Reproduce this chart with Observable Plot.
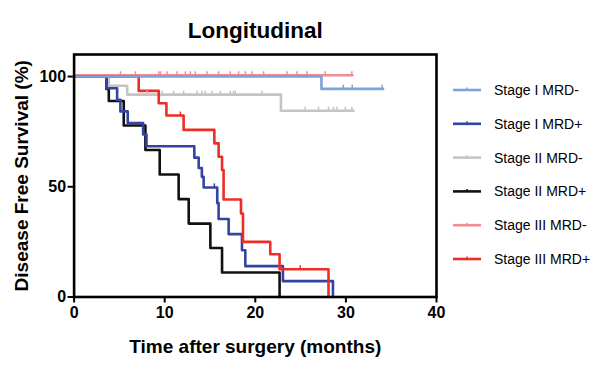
<!DOCTYPE html>
<html>
<head>
<meta charset="utf-8">
<script src="https://cdn.jsdelivr.net/npm/d3@7"></script>
<script src="https://cdn.jsdelivr.net/npm/@observablehq/plot@0.6"></script>
<style>
  html, body { margin: 0; padding: 0; background: #fff; }
  #chart { width: 607px; height: 376px; }
</style>
</head>
<body>
<div id="chart"></div>
<script>
// ---- Data ----
const seriesNames = ["Stage I MRD-", "Stage I MRD+", "Stage II MRD-", "Stage II MRD+", "Stage III MRD-", "Stage III MRD+"];
const seriesColors = ["#7ba3dc", "#3344a4", "#c4c4c4", "#111111", "#f48a92", "#ee2e26"];
// order in which the curves are layered (last on top)
const drawOrder = ["Stage III MRD-", "Stage II MRD-", "Stage II MRD+", "Stage I MRD+", "Stage III MRD+", "Stage I MRD-"];

// step times (months) and survival (%) for each series
const s1NegT = [0, 27.3, 34.1];
const s1NegS = [100, 94.4, 94.4];
const s1NegCensor = [29.7, 30.7, 34.0];

const s1PosT = [0, 3.57, 4.75, 5.11, 5.92, 7.62, 7.99, 13.27, 13.75, 14.1, 14.3, 15.8, 15.95, 17.06, 18.53, 18.9, 23.05, 28.57];
const s1PosS = [100, 94.7, 89.5, 84.2, 78.9, 73.7, 68.4, 63.2, 58.5, 54.5, 49.7, 42.6, 35.4, 28.5, 21.2, 14.0, 7.2, 0];
const s1PosCensor = [15.48];

const s2NegT = [0, 3.83, 5.86, 22.83, 30.84];
const s2NegS = [100, 95.8, 91.8, 84.5, 84.5];
const s2NegCensor = [8.06, 9.71, 10.99, 12.09, 13.57, 14.12, 14.49, 15.23, 16.14, 17.24, 17.6, 17.79, 20.74,
                     25.51, 26.98, 28.08, 28.63, 29.0, 29.92, 30.66];

const s2PosT = [0, 3.57, 3.83, 5.48, 7.87, 9.45, 11.54, 12.65, 15.04, 16.33, 22.68];
const s2PosS = [100, 94.4, 88.9, 77.8, 66.7, 55.6, 44.4, 33.3, 22.2, 11.1, 0];
const s2PosCensor = [];

const s3NegT = [0, 30.7];
const s3NegS = [100, 100];
const s3NegCensor = [5.12, 6.77, 9.34, 9.53, 10.26, 11.37, 12.28, 12.83, 13.38, 14.67, 15.95, 17.24, 18.16, 18.9,
                     19.64, 20.92, 23.5, 24.6, 25.7, 27.72, 30.66];

const s3PosT = [0, 7.13, 9.34, 10.19, 12.09, 15.48, 15.95, 16.33, 16.5, 18.42, 18.64, 21.65, 22.68, 28.08];
const s3PosS = [100, 93.5, 87.9, 82.3, 75.8, 69.7, 63.6, 57.6, 44.2, 37.9, 25.0, 19.4, 12.6, 0];
const s3PosCensor = [11.73, 24.96];

const xTicks = [0, 10, 20, 30, 40];
const yTicks = [0, 50, 100];

const titleText = "Longitudinal";
const xLabel = "Time after surgery (months)";
const yLabel = "Disease Free Survival (%)";

// ---- Build tables ----
const allT = [s1NegT, s1PosT, s2NegT, s2PosT, s3NegT, s3PosT];
const allS = [s1NegS, s1PosS, s2NegS, s2PosS, s3NegS, s3PosS];
const allC = [s1NegCensor, s1PosCensor, s2NegCensor, s2PosCensor, s3NegCensor, s3PosCensor];

function survAt(times, surv, t) {
  let v = surv[0];
  for (let i = 0; i < times.length; i++) if (times[i] <= t) v = surv[i];
  return v;
}

const steps = [];
const censors = [];
drawOrder.forEach(name => {
  const k = seriesNames.indexOf(name);
  allT[k].forEach((t, i) => steps.push({series: name, t, s: allS[k][i]}));
  allC[k].forEach(t => censors.push({series: name, t, s: survAt(allT[k], allS[k], t)}));
});
const pinkName = "Stage III MRD-";
const stepsPink = steps.filter(d => d.series === pinkName);
const stepsOther = steps.filter(d => d.series !== pinkName);
const censPink = censors.filter(d => d.series === pinkName);
const censOther = censors.filter(d => d.series !== pinkName);

const font = "'Liberation Sans', Arial, Helvetica, sans-serif";

const chart = Plot.plot({
  width: 607,
  height: 376,
  marginLeft: 73.6,
  marginRight: 171,
  marginTop: 54,
  marginBottom: 79.5,
  style: {fontFamily: font, background: "#fff", color: "#000"},
  x: {domain: [0, 40]},
  y: {domain: [0, 110]},
  color: {domain: seriesNames, range: seriesColors},
  marks: [
    Plot.axisX({ticks: xTicks, tickSize: 6, tickPadding: 4, strokeWidth: 2, fontSize: 16, fontWeight: "bold", label: null}),
    Plot.axisY({ticks: yTicks, tickSize: 6, tickPadding: 2, strokeWidth: 2, fontSize: 16, fontWeight: "bold", label: null}),
    Plot.line(stepsPink, {x: "t", y: "s", stroke: "series", curve: "step-after", strokeWidth: 2.6, dy: -1.3}),
    Plot.ruleX(censPink, {x: "t", y1: "s", y2: d => d.s + 1.6, stroke: "series", strokeWidth: 1.5, dy: -1.3}),
    Plot.line(stepsOther, {x: "t", y: "s", z: "series", stroke: "series", curve: "step-after", strokeWidth: 2.6}),
    Plot.ruleX(censOther, {x: "t", y1: "s", y2: d => d.s + 1.6, stroke: "series", strokeWidth: 1.5}),
    Plot.frame({stroke: "#000", strokeWidth: 2.6}),
    Plot.text([titleText], {frameAnchor: "top", dy: -24, lineAnchor: "middle", fontSize: 22.5, fontWeight: "bold"}),
    Plot.text([xLabel], {frameAnchor: "bottom", dy: 50, lineAnchor: "middle", fontSize: 19, fontWeight: "bold"}),
    Plot.text([yLabel], {frameAnchor: "left", dx: -52, rotate: -90, textAnchor: "middle", lineAnchor: "middle", fontSize: 19, fontWeight: "bold"})
  ]
});

document.getElementById("chart").appendChild(chart);

// ---- Legend (drawn into the same SVG) ----
const svg = d3.select(chart);
const legend = svg.append("g").attr("font-family", font).attr("font-size", 14).attr("text-anchor", "start");
seriesNames.forEach((name, i) => {
  const y = 90 + i * 33.8;
  const g = legend.append("g").attr("transform", `translate(453,${y})`);
  g.append("line").attr("x1", 0).attr("x2", 28).attr("stroke", seriesColors[i]).attr("stroke-width", 2.6);
  g.append("line").attr("x1", 14).attr("x2", 14).attr("y1", 0).attr("y2", -2.5).attr("stroke", seriesColors[i]).attr("stroke-width", 1.5);
  g.append("text").attr("x", 41).attr("y", 0).attr("dy", "0.35em").attr("fill", "#000").text(name);
});
</script>
</body>
</html>
